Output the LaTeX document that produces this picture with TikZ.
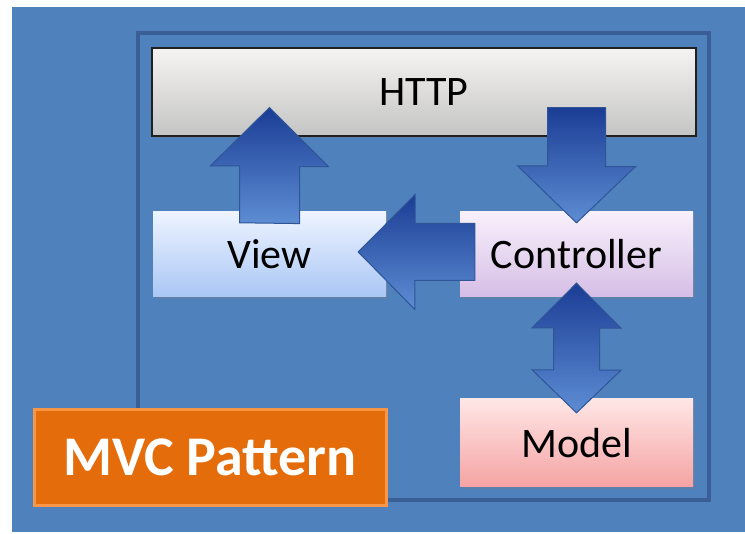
\documentclass[tikz,border=0pt]{standalone}
\usepackage{fontspec}
\setmainfont{Carlito}
\usetikzlibrary{calc,shadows}

\definecolor{bgblue}{HTML}{4F81BD}
\definecolor{frameline}{HTML}{3A5F96}
\definecolor{httptop}{HTML}{F6F4F2}
\definecolor{httpbot}{HTML}{C4C4C4}
\definecolor{httpline}{HTML}{202020}
\definecolor{viewtop}{HTML}{EEF4FF}
\definecolor{viewbot}{HTML}{A9C6F5}
\definecolor{ctrltop}{HTML}{F8F0FB}
\definecolor{ctrlbot}{HTML}{D5BEE6}
\definecolor{modeltop}{HTML}{FFE6E6}
\definecolor{modelbot}{HTML}{F5A3A3}
\definecolor{mvcfill}{HTML}{E46C0A}
\definecolor{mvcline}{HTML}{F79646}
\definecolor{arrowtop}{HTML}{1B3D95}
\definecolor{arrowbot}{HTML}{5D8DD3}
\definecolor{arrowline}{HTML}{2F5597}

\begin{document}
\begin{tikzpicture}[x=1pt,y=1pt,
    box/.style={minimum width=233pt,minimum height=85pt,inner sep=0pt,
                font=\fontsize{42}{44}\selectfont,
                drop shadow={shadow xshift=1.5pt,shadow yshift=-2pt,opacity=.3}},
    blockarrow/.style={draw=arrowline,line width=1pt,top color=arrowtop,bottom color=arrowbot}]
  \useasboundingbox (0,0) rectangle (745,534);
  \fill[white] (0,0) rectangle (745,534);
  \fill[bgblue] (12,2) rectangle (745,527);
  \draw[frameline,line width=3.5pt] (138,34) rectangle (709,501);

  % boxes
  \node[box,draw=httpline,line width=1.2pt,top color=httptop,bottom color=httpbot,
        minimum width=544pt,minimum height=88pt] (http) at (424,442) {HTTP};
  \node[box,top color=viewtop,bottom color=viewbot] (view) at (269.5,279.5) {View};
  \node[box,top color=ctrltop,bottom color=ctrlbot] (ctrl) at (576.5,279.5) {Controller};
  \node[box,top color=modeltop,bottom color=modelbot,minimum height=88pt] (model) at (576.5,91) {Model};

  % view -> http
  \coordinate (uptip) at ($(view.north |- http.south)+(0,29)$);
  \draw[blockarrow] ($(view.north)+(-30,-11)$) -- ++(0,57) -- ++(-29,0) -- (uptip)
    -- ++(59,-59) -- ++(-29,0) -- ++(0,-57) -- cycle;

  % http -> controller
  \coordinate (downtip) at ($(ctrl.north)+(0,-11)$);
  \draw[blockarrow] (downtip) -- ++(-59,57) -- ++(30,0) -- ($(ctrl.north |- http.south)+(-29,29)$)
    -- ++(58,0) -- ++(0,-59) -- ++(30,0) -- cycle;

  % controller -> view
  \coordinate (lefttip) at ($(view.east)+(-28,2.5)$);
  \draw[blockarrow] (lefttip) -- ++(57,57.5) -- ++(0,-29) -- ($(ctrl.west)+(15,31)$)
    -- ++(0,-57) -- ++(-60,0) -- ++(0,-29) -- cycle;

  % controller <-> model
  \coordinate (bothtop) at ($(ctrl.south)+(0,14)$);
  \coordinate (bothbot) at ($(model.north)+(0,-14)$);
  \draw[blockarrow] (bothtop) -- ++(44.5,-45) -- ++(-21.5,0) -- ++(0,-42) -- ++(21.5,0)
    -- (bothbot) -- ++(-44.5,43) -- ++(21.5,0) -- ++(0,42) -- ++(-21.5,0) -- cycle;

  % title
  \node[draw=mvcline,line width=3pt,fill=mvcfill,text=white,inner sep=0pt,
        minimum width=352pt,minimum height=96pt,
        font=\bfseries\fontsize{56}{60}\selectfont] (mvc) at (210,76.5) {MVC Pattern};
\end{tikzpicture}
\end{document}
